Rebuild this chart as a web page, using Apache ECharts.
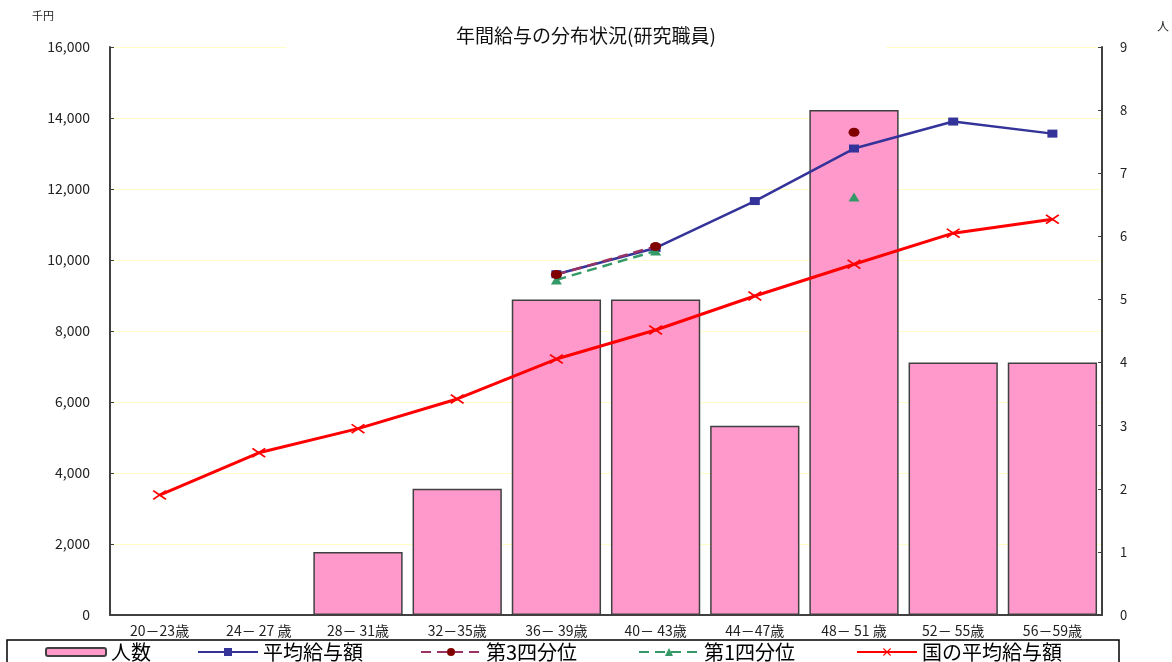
<!DOCTYPE html>
<html>
<head>
<meta charset="utf-8">
<script src="https://cdn.jsdelivr.net/npm/echarts@6/dist/echarts.min.js"></script>
<style>
html,body{margin:0;padding:0;background:#fff;}
#c{width:1172px;height:662px;}
</style>
</head>
<body>
<div id="c"></div>
<script>
const categories = ['20－23歳','24－ 27 歳','28－ 31歳','32－35歳','36－ 39歳','40－ 43歳','44－47歳','48－ 51 歳','52－ 55歳','56－59歳'];
const headcount = [0,0,1,2,5,5,3,8,4,4];
const avgSalary = [null,null,null,null,9600,10340,11660,13140,13900,13560];
const q3Salary = [null,null,null,null,9590,10380,null,13600,null,null];
const q1Salary = [null,null,null,null,9440,10255,null,11775,null,null];
const nationalAvg = [3380,4570,5250,6085,7210,8028,8986,9880,10756,11150];
const leftTicks = {min:0, max:16000, interval:2000};
const rightTicks = {min:0, max:9, interval:1};

const FONT = '"Noto Sans CJK JP", "Noto Sans", sans-serif';
const xSym = 'path://M0,1.2 L1.2,0 L14,8.8 L12.8,10 Z M12.8,0 L14,1.2 L1.2,10 L0,8.8 Z';

const chart = echarts.init(document.getElementById('c'), null, {renderer:'canvas'});
function commas(v){ return String(v).replace(/\B(?=(\d{3})+(?!\d))/g, ','); }

const legendBase = {top: 642, itemWidth: 60, itemHeight: 10, itemGap: 0, padding: 0,
  textStyle:{fontFamily:FONT, fontSize:20, color:'#000'}, selectedMode:false};

chart.setOption({
  animation:false,
  backgroundColor:'#fff',
  textStyle:{fontFamily:FONT},
  title:{text:'年間給与の分布状況(研究職員)', left:'center', top:22,
    backgroundColor:'#fff', padding:[4,170,6,170],
    textStyle:{fontFamily:FONT, fontSize:19, fontWeight:'normal', color:'#111'}},
  grid:{left:110, right:70, top:47, bottom:47, containLabel:false},
  legend:[
    Object.assign({}, legendBase, {left:45, itemHeight:8, data:['人数']}),
    Object.assign({}, legendBase, {left:197, data:['平均給与額']}),
    Object.assign({}, legendBase, {left:420, data:['第3四分位']}),
    Object.assign({}, legendBase, {left:638, data:['第1四分位']}),
    Object.assign({}, legendBase, {left:856, data:['国の平均給与額']})
  ],
  graphic:[
    {type:'text', left:32, top:10, z:100, style:{text:'千円', font:'11px '+FONT, fill:'#222'}},
    {type:'text', left:1157, top:20, z:100, style:{text:'人', font:'12px '+FONT, fill:'#222'}},
    {type:'rect', z:-1, shape:{x:7, y:640, width:1112, height:40}, style:{fill:'#fff', stroke:'#000', lineWidth:1.5}}
  ],
  xAxis:{type:'category', data:categories, boundaryGap:true,
    axisLine:{lineStyle:{color:'#404040', width:2}},
    axisTick:{inside:true, length:4, alignWithLabel:false, lineStyle:{color:'#404040'}},
    axisLabel:{fontFamily:FONT, fontSize:14, color:'#222', margin:9, interval:0}},
  yAxis:[
    {type:'value', min:leftTicks.min, max:leftTicks.max, interval:leftTicks.interval, position:'left',
      axisLine:{show:true, lineStyle:{color:'#404040', width:2}},
      axisTick:{show:true, inside:true, length:4, lineStyle:{color:'#404040'}},
      splitLine:{show:true, lineStyle:{color:'#FFFFC8', width:1}},
      axisLabel:{fontFamily:FONT, fontSize:14, color:'#222', margin:20, formatter:commas}},
    {type:'value', min:rightTicks.min, max:rightTicks.max, interval:rightTicks.interval, position:'right',
      axisLine:{show:true, lineStyle:{color:'#404040', width:2}},
      axisTick:{show:true, inside:true, length:4, lineStyle:{color:'#404040'}},
      splitLine:{show:false},
      axisLabel:{fontFamily:FONT, fontSize:13, color:'#222', margin:18}}
  ],
  series:[
    {name:'人数', type:'bar', yAxisIndex:1, data:headcount, barCategoryGap:'10%',
      itemStyle:{color:'#FF99CC', borderColor:'#404040', borderWidth:1.5}, z:1},
    {name:'国の平均給与額', type:'line', yAxisIndex:0, data:nationalAvg,
      symbol:xSym, symbolSize:[14,10], itemStyle:{color:'#FF0000'},
      lineStyle:{color:'#FF0000', width:3}, z:3},
    {name:'平均給与額', type:'line', yAxisIndex:0, data:avgSalary, connectNulls:false,
      symbol:'rect', symbolSize:[10,8], itemStyle:{color:'#333399'},
      lineStyle:{color:'#333399', width:2.5}, z:4},
    {name:'第1四分位', type:'line', yAxisIndex:0, data:q1Salary, connectNulls:false,
      symbol:'triangle', symbolSize:[11,9], itemStyle:{color:'#339966'},
      lineStyle:{color:'#339966', width:2.5, type:[10,6]}, z:5},
    {name:'第3四分位', type:'line', yAxisIndex:0, data:q3Salary, connectNulls:false,
      symbol:'circle', symbolSize:[11,9], itemStyle:{color:'#800000'},
      lineStyle:{color:'#993366', width:2.5, type:[10,6]}, z:6}
  ]
});
</script>
</body>
</html>
